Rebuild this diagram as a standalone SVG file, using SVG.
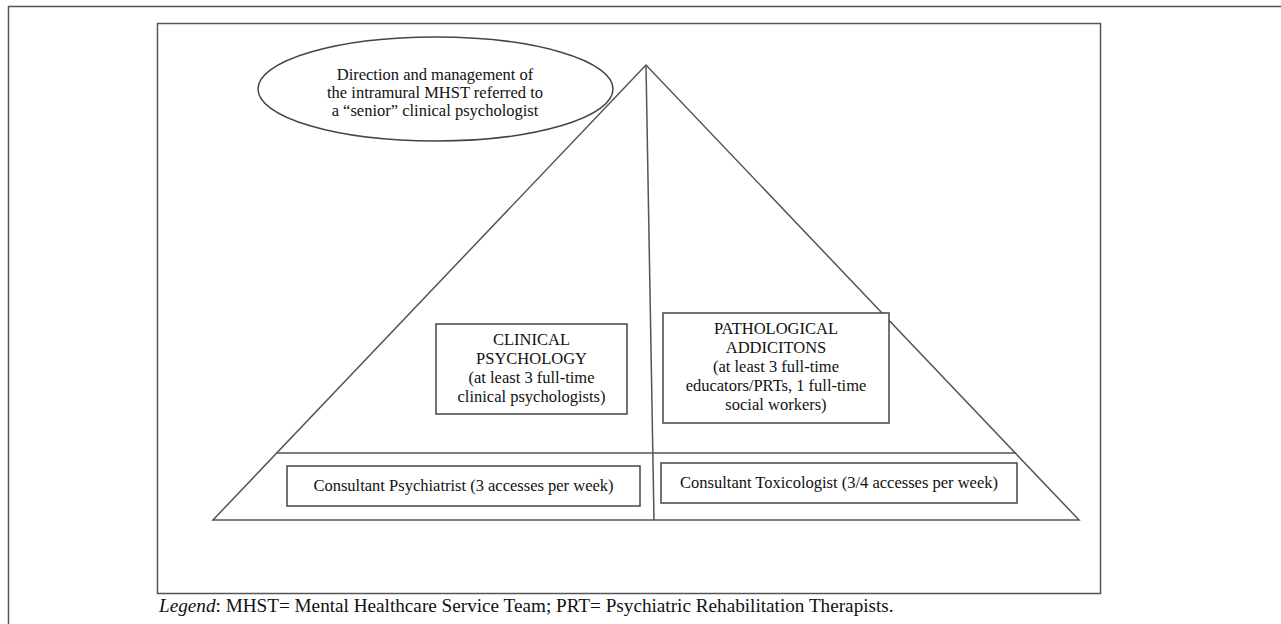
<svg xmlns="http://www.w3.org/2000/svg" width="1281" height="624" viewBox="0 0 1281 624">
<style>
.ln{stroke:#555;stroke-width:1.5;fill:none}
.bx{stroke:#444;stroke-width:1.5;fill:#fff}
.t{font-family:"Liberation Serif","Times New Roman",serif;font-size:16.5px;fill:#111;text-anchor:middle}
.lg{font-family:"Liberation Serif","Times New Roman",serif;font-size:19.2px;fill:#111}
</style>
<rect width="1281" height="624" fill="#fff"/>
<g id="frame">
<path class="ln" d="M8.5 624 V6.5 H1281" stroke="#333"/>
<rect x="157.5" y="23.5" width="943" height="570" class="ln" stroke="#444"/>
</g>
<g id="connectors">
<polygon class="ln" points="646,65 213,520 1079,520"/>
<line class="ln" x1="646" y1="65" x2="654" y2="520"/>
<line class="ln" x1="277" y1="453" x2="1016" y2="453"/>
</g>
<g id="ellipse-node">
<ellipse class="bx" cx="435.5" cy="89" rx="177.5" ry="52"/>
<text class="t" font-size="17"><tspan x="435" y="80">Direction and management of</tspan><tspan x="435" y="98">the intramural MHST referred to</tspan><tspan x="435" y="116">a “senior” clinical psychologist</tspan></text>
</g>
<g id="clinical">
<rect class="bx" x="436" y="324" width="191" height="90"/>
<text class="t"><tspan x="531.5" y="345">CLINICAL</tspan><tspan x="531.5" y="364">PSYCHOLOGY</tspan><tspan x="531.5" y="383">(at least 3 full-time</tspan><tspan x="531.5" y="402">clinical psychologists)</tspan></text>
</g>
<g id="pathological">
<rect class="bx" x="663" y="313" width="226" height="110"/>
<text class="t"><tspan x="776" y="334">PATHOLOGICAL</tspan><tspan x="776" y="353">ADDICITONS</tspan><tspan x="776" y="372">(at least 3 full-time</tspan><tspan x="776" y="391">educators/PRTs, 1 full-time</tspan><tspan x="776" y="410">social workers)</tspan></text>
</g>
<g id="psychiatrist">
<rect class="bx" x="287" y="466" width="353" height="40"/>
<text class="t" font-size="16" x="463.5" y="491">Consultant Psychiatrist (3 accesses per week)</text>
</g>
<g id="toxicologist">
<rect class="bx" x="661" y="463" width="356" height="40"/>
<text class="t" font-size="16" x="839" y="488">Consultant Toxicologist (3/4 accesses per week)</text>
</g>
<g id="legend">
<text class="lg" x="159" y="612"><tspan font-style="italic">Legend</tspan>: MHST= Mental Healthcare Service Team; PRT= Psychiatric Rehabilitation Therapists.</text>
</g>
</svg>
